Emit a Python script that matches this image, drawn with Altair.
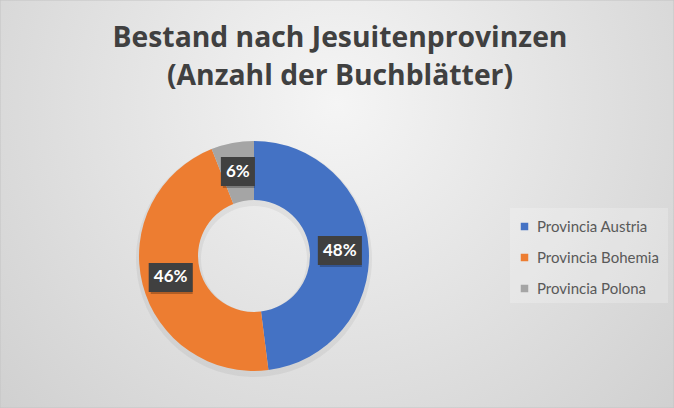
import altair as alt
import pandas as pd

provinces = ["Provincia Austria", "Provincia Bohemia", "Provincia Polona"]
shares = [48, 46, 6]
labels = ["48%", "46%", "6%"]
colors = ["#4472C4", "#ED7D31", "#A5A5A5"]
title_lines = ["Bestand nach Jesuitenprovinzen", "(Anzahl der Buchblätter)"]

W, H = 674, 408
CX, CY = 254, 256
R_OUT, R_IN = 115, 56
R_LAB = 86

df = pd.DataFrame({"province": provinces, "share": shares, "label": labels, "order": list(range(len(provinces)))})
title_df = pd.DataFrame({"line": title_lines, "row": list(range(len(title_lines)))})
one = pd.DataFrame({"a": [0]})

bg = alt.Chart(one).mark_rect(
    fill={"gradient": "radial", "x1": 0.5, "y1": 0.35, "r1": 0, "x2": 0.5, "y2": 0.35, "r2": 0.75,
          "stops": [{"offset": 0, "color": "#f5f5f5"}, {"offset": 1, "color": "#cccccc"}]},
    stroke="#c4c4c4", strokeWidth=1,
).encode(x=alt.value(0), x2=alt.value(W), y=alt.value(0), y2=alt.value(H))

legend_bg = alt.Chart(one).mark_rect(fill="white", opacity=0.22).encode(
    x=alt.value(510), x2=alt.value(668), y=alt.value(208), y2=alt.value(303))

title = alt.Chart(title_df).mark_text(
    font="Open Sans", fontWeight="bold", fontSize=28.3, color="#404040", baseline="alphabetic", align="center"
).encode(x=alt.value(340), y=alt.value(47), text="line:N",
         yOffset=alt.YOffset("row:Q", scale=alt.Scale(domain=[0, 1], range=[0, 38])))

base = alt.Chart(df)

shadow = base.mark_arc(outerRadius=R_OUT + 3, innerRadius=R_IN - 3, color="black", opacity=0.05).encode(
    theta=alt.Theta("share:Q", stack=True), order=alt.Order("order:Q"),
    x=alt.value(CX), y=alt.value(CY + 3))

arc = base.mark_arc(outerRadius=R_OUT, innerRadius=R_IN).encode(
    theta=alt.Theta("share:Q", stack=True),
    color=alt.Color("province:N", scale=alt.Scale(domain=provinces, range=colors),
                    legend=alt.Legend(orient="none", legendX=509, legendY=211, title=None,
                                      symbolType="square", symbolSize=56, symbolStrokeWidth=0,
                                      labelFont="Lato", labelFontSize=15, labelColor="#595959",
                                      rowPadding=15, labelOffset=5, padding=8)),
    order=alt.Order("order:Q"),
    x=alt.value(CX), y=alt.value(CY))

lab = base.transform_window(
    cum="sum(share)", sort=[alt.SortField("order")], frame=[None, 0]
).transform_joinaggregate(total="sum(share)").transform_calculate(
    mid="(datum.cum - datum.share/2)/datum.total*2*PI"
).transform_calculate(
    lx=f"sin(datum.mid)*{R_LAB}", ly=f"cos(datum.mid)*{R_LAB}",
    bw="14 + 10*length(datum.label)"
).transform_calculate(
    bx1="datum.lx - datum.bw/2", bx2="datum.lx + datum.bw/2",
    by1="datum.ly - 14.5", by2="datum.ly + 14.5"
)

xs = alt.Scale(domain=[-CX, W - CX], nice=False, zero=False)
ys = alt.Scale(domain=[-(H - CY), CY], nice=False, zero=False)

box_shadow = lab.mark_rect(color="black", opacity=0.25).encode(
    x=alt.X("bx1:Q", scale=xs, axis=None), x2="bx2:Q",
    y=alt.Y("by1:Q", scale=ys, axis=None), y2="by2:Q",
    xOffset=alt.value(2), yOffset=alt.value(2))

box = lab.mark_rect(color="#404040").encode(
    x=alt.X("bx1:Q", scale=xs, axis=None), x2="bx2:Q",
    y=alt.Y("by1:Q", scale=ys, axis=None), y2="by2:Q")

txt = lab.mark_text(font="Lato", fontWeight="bold", fontSize=17, color="white", baseline="middle").encode(
    x=alt.X("lx:Q", scale=xs, axis=None), y=alt.Y("ly:Q", scale=ys, axis=None), text="label:N")

chart = alt.layer(bg, legend_bg, title, shadow, arc, box_shadow, box, txt).properties(
    width=W, height=H, padding=0, autosize="none", background="#d9d9d9"
).configure_view(stroke=None)

chart.save("out.html", embed_options={"renderer": "svg", "actions": False})
